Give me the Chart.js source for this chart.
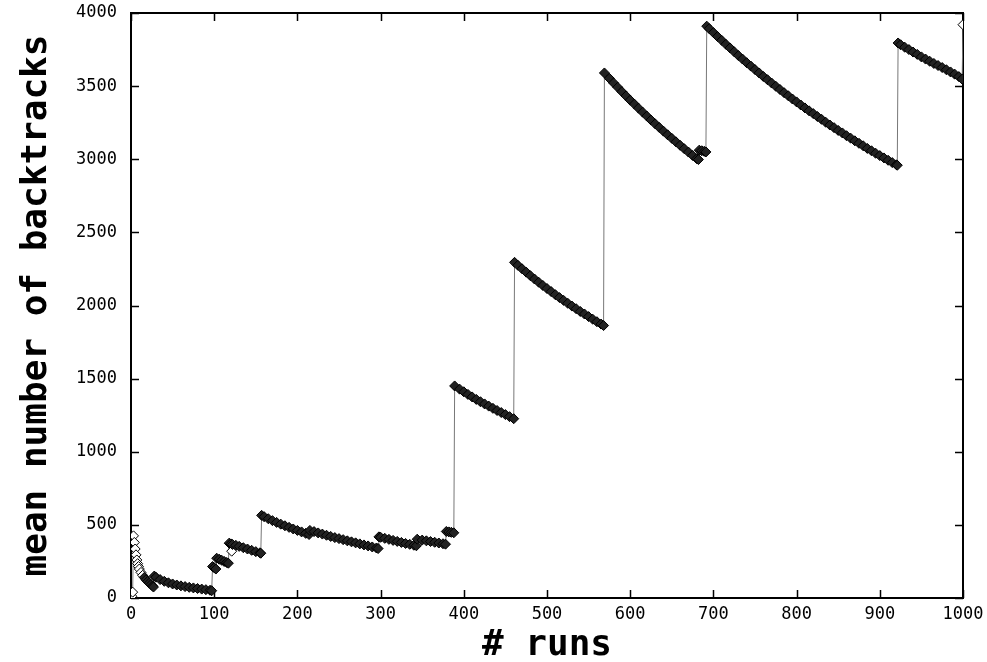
<!DOCTYPE html>
<html>
<head>
<meta charset="utf-8">
<script src="https://cdn.jsdelivr.net/npm/chart.js@4"></script>
<style>
  html, body { margin: 0; padding: 0; background: #fff; }
  #wrap { width: 987px; height: 662px; }
</style>
</head>
<body>
<div id="wrap"><canvas id="chart" width="987" height="662"></canvas></div>
<script>
// run numbers and the running mean of backtracks
const runs = [
  1, 2, 3, 4, 5, 6, 7, 8, 9, 10, 12, 14, 16, 18, 20, 22, 24, 26, 27,
  28, 30, 35, 40, 45, 50, 55, 60, 65, 70, 75, 80, 85, 90, 95, 97,
  98, 100, 102,
  103, 106, 109, 112, 115, 117,
  118, 120, 121, 122, 126, 130, 135, 140, 145, 150, 155, 156,
  157, 160, 165, 170, 175, 180, 185, 190, 195, 200, 205, 210, 214,
  215, 220, 225, 230, 235, 240, 245, 250, 255, 260, 265, 270, 275, 280, 285, 290, 295, 297,
  298, 300, 305, 310, 315, 320, 325, 330, 335, 340, 343,
  344, 350, 355, 360, 365, 370, 375, 378,
  379, 382, 385, 388,
  389, 395, 400, 405, 410, 415, 420, 425, 430, 435, 440, 445, 450, 455, 460,
  461, 465, 470, 475, 480, 485, 490, 495, 500, 505, 510, 515, 520, 525, 530, 535, 540, 545, 550, 555, 560, 565, 568,
  569, 575, 580, 585, 590, 595, 600, 605, 610, 615, 620, 625, 630, 635, 640, 645, 650, 655, 660, 665, 670, 675, 680, 682,
  683, 686, 689, 691,
  692, 695, 700, 705, 710, 715, 720, 725, 730, 735, 740, 745, 750, 755, 760, 765, 770, 775, 780, 785, 790, 795,
  800, 805, 810, 815, 820, 825, 830, 835, 840, 845, 850, 855, 860, 865, 870, 875, 880, 885, 890, 895, 900, 905,
  910, 915, 920, 921,
  922, 925, 930, 935, 940, 945, 950, 955, 960, 965, 970, 975, 980, 985, 990, 995, 999,
  1000
];
const meanBacktracks = [
  12, 40, 425, 380, 335, 295, 260, 235, 215, 198, 175, 155, 140, 125, 113, 102, 92, 82, 75,
  150, 142, 126, 114, 104, 96, 89, 83, 78, 73, 69, 65, 61, 57, 53, 50,
  215, 207, 198,
  272, 265, 258, 250, 243, 238,
  375, 370, 320, 366, 360, 353, 344, 335, 326, 317, 309, 306,
  565, 556, 542, 529, 517, 505, 494, 483, 472, 462, 452, 442, 434,
  462, 454, 445, 437, 429, 421, 413, 406, 399, 391, 384, 377, 370, 363, 356, 349, 342, 338,
  418, 415, 408, 401, 394, 387, 380, 373, 367, 361, 357,
  402, 396, 391, 386, 381, 376, 371, 368,
  455, 452, 449, 446,
  1450, 1428, 1410, 1392, 1375, 1358, 1342, 1327, 1312, 1297, 1282, 1268, 1254, 1240, 1226,
  2295, 2275, 2251, 2228, 2204, 2181, 2159, 2137, 2116, 2095, 2074, 2054, 2035, 2015, 1996, 1978, 1959, 1942, 1924, 1906, 1889, 1873, 1863,
  3590, 3553, 3522, 3492, 3462, 3433, 3404, 3377, 3349, 3322, 3295, 3268, 3242, 3217, 3192, 3167, 3143, 3119, 3095, 3072, 3049, 3026, 3004, 2998,
  3062, 3058, 3054, 3050,
  3910, 3893, 3866, 3839, 3813, 3786, 3761, 3735, 3709, 3685, 3660, 3637, 3613, 3590, 3566, 3544, 3521, 3499, 3477, 3455, 3434, 3412,
  3392, 3371, 3351, 3331, 3312, 3292, 3273, 3253, 3234, 3216, 3197, 3180, 3161, 3144, 3126, 3109, 3092, 3074, 3058, 3041, 3025, 3009,
  2993, 2977, 2962, 2959,
  3795, 3783, 3766, 3750, 3733, 3717, 3700, 3685, 3670, 3655, 3641, 3627, 3612, 3597, 3582, 3565, 3548,
  3920
];
// points drawn hollow in the picture
const hollowRuns = [1, 2, 3, 4, 5, 6, 7, 8, 9, 10, 12, 14, 121, 1000];

const xTicks = [0, 100, 200, 300, 400, 500, 600, 700, 800, 900, 1000];
const yTicks = [0, 500, 1000, 1500, 2000, 2500, 3000, 3500, 4000];

// gnuplot-like frame with inward ticks on all four sides
const framePlugin = {
  id: 'frame',
  beforeDatasetsDraw(chart) {
    const { ctx, chartArea: a, scales } = chart;
    ctx.save();
    ctx.strokeStyle = '#000';
    ctx.lineWidth = 2;
    ctx.strokeRect(a.left, a.top, a.right - a.left, a.bottom - a.top);
    ctx.lineWidth = 1.5;
    ctx.beginPath();
    xTicks.forEach(v => {
      const x = Math.round(scales.x.getPixelForValue(v)) + 0.5;
      ctx.moveTo(x, a.bottom); ctx.lineTo(x, a.bottom - 8);
      ctx.moveTo(x, a.top); ctx.lineTo(x, a.top + 8);
    });
    yTicks.forEach(v => {
      const y = Math.round(scales.y.getPixelForValue(v)) + 0.5;
      ctx.moveTo(a.left, y); ctx.lineTo(a.left + 8, y);
      ctx.moveTo(a.right, y); ctx.lineTo(a.right - 8, y);
    });
    ctx.stroke();
    ctx.restore();
  }
};

const tickFont = { family: 'DejaVu Sans Mono', size: 17 };
const titleFont = { family: 'DejaVu Sans Mono', size: 36, weight: 'bold' };

new Chart(document.getElementById('chart').getContext('2d'), {
  type: 'scatter',
  data: {
    datasets: [{
      data: runs.map((r, i) => ({ x: r, y: meanBacktracks[i] })),
      showLine: true,
      borderColor: '#777',
      borderWidth: 1,
      pointStyle: 'rectRot',
      pointRadius: 5,
      pointBorderColor: '#000',
      pointBorderWidth: 1,
      pointBackgroundColor: ctx => hollowRuns.includes(runs[ctx.dataIndex]) ? '#fff' : '#222'
    }]
  },
  options: {
    responsive: false,
    animation: false,
    layout: { padding: { top: 13, right: 24, left: 0, bottom: 0 } },
    plugins: { legend: { display: false }, tooltip: { enabled: false } },
    scales: {
      x: {
        type: 'linear',
        min: 0,
        max: 1000,
        grid: { display: false, drawTicks: false },
        border: { display: false },
        ticks: { stepSize: 100, color: '#000', font: tickFont, padding: 6, maxRotation: 0, callback: v => String(v) },
        title: { display: true, text: '# runs', color: '#000', font: titleFont, padding: { top: 0, bottom: -5 } },
        afterFit: s => { s.height = 64; s.paddingLeft = 0; s.paddingRight = 0; }
      },
      y: {
        min: 0,
        max: 4000,
        grid: { display: false, drawTicks: false },
        border: { display: false },
        ticks: { stepSize: 500, color: '#000', font: tickFont, padding: 14, callback: v => String(v) },
        title: { display: true, text: 'mean number of backtracks', color: '#000', font: titleFont, padding: { top: 15, bottom: 0 } },
        afterFit: s => { s.width = 131; s.paddingTop = 0; s.paddingBottom = 0; }
      }
    }
  },
  plugins: [framePlugin]
});
</script>
</body>
</html>
